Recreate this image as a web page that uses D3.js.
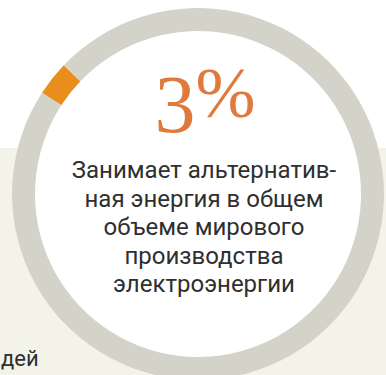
<!DOCTYPE html>
<html>
<head>
<meta charset="utf-8">
<script src="https://cdn.jsdelivr.net/npm/d3@7"></script>
<style>
  html, body { margin: 0; padding: 0; background: #ffffff; }
  svg { display: block; }
</style>
</head>
<body>
<svg id="chart" width="386" height="375"></svg>
<script>
// Share of alternative energy in world electricity production, %
const segmentNames = ["Альтернативная энергия", "Прочие источники"];
const segmentValues = [3, 97];
const segmentColors = ["#e98d1c", "#d4d3c9"];

// Caption under the big number
const captionLines = [
  "Занимает альтернатив-",
  "ная энергия в общем",
  "объеме мирового",
  "производства",
  "электроэнергии"
];

// Fragment of the neighbouring block's text
const sideText = "дей";

const W = 386, H = 375;
const cx = 198, cy = 194;
const outerR = 186, innerR = 163;

const svg = d3.select("#chart");

// Light panel behind the lower part of the layout
svg.append("rect")
  .attr("x", 0).attr("y", 148)
  .attr("width", W).attr("height", H - 148)
  .attr("fill", "#f3f3ea");

const g = svg.append("g").attr("transform", `translate(${cx},${cy})`);

// White disc inside the ring
g.append("circle").attr("r", outerR).attr("fill", "#ffffff");

// Ring: the small share sits in the upper-left part
const start = -57 * Math.PI / 180;
const pie = d3.pie().sort(null)
  .startAngle(start).endAngle(start + 2 * Math.PI);
const arc = d3.arc().innerRadius(innerR).outerRadius(outerR);

g.selectAll("path.seg")
  .data(pie(segmentValues))
  .join("path")
  .attr("class", "seg")
  .attr("d", arc)
  .attr("fill", (d, i) => segmentColors[i]);

// Big number
const big = svg.append("text")
  .attr("x", 205).attr("y", 132)
  .attr("text-anchor", "middle")
  .attr("font-family", "'Liberation Serif', 'DejaVu Serif', serif")
  .attr("fill", "#e0793c");
big.append("tspan")
  .attr("font-size", 82)
  .text(String(segmentValues[0]));
big.append("tspan")
  .attr("font-size", 72)
  .attr("dy", -15)
  .text("%");

// Caption: one text block, one tspan per line
const caption = svg.append("text")
  .attr("y", 178)
  .attr("text-anchor", "middle")
  .attr("font-family", "Roboto, 'Open Sans', sans-serif")
  .attr("font-size", 24)
  .attr("fill", "#2f2f2f");
caption.selectAll("tspan")
  .data(captionLines)
  .join("tspan")
  .attr("x", 204)
  .attr("dy", (d, i) => i === 0 ? 0 : 28.6)
  .text(d => d);

svg.append("text")
  .attr("x", 1).attr("y", 366)
  .attr("font-family", "Roboto, 'Open Sans', sans-serif")
  .attr("font-size", 22)
  .attr("fill", "#2f2f2f")
  .text(sideText);
</script>
</body>
</html>
